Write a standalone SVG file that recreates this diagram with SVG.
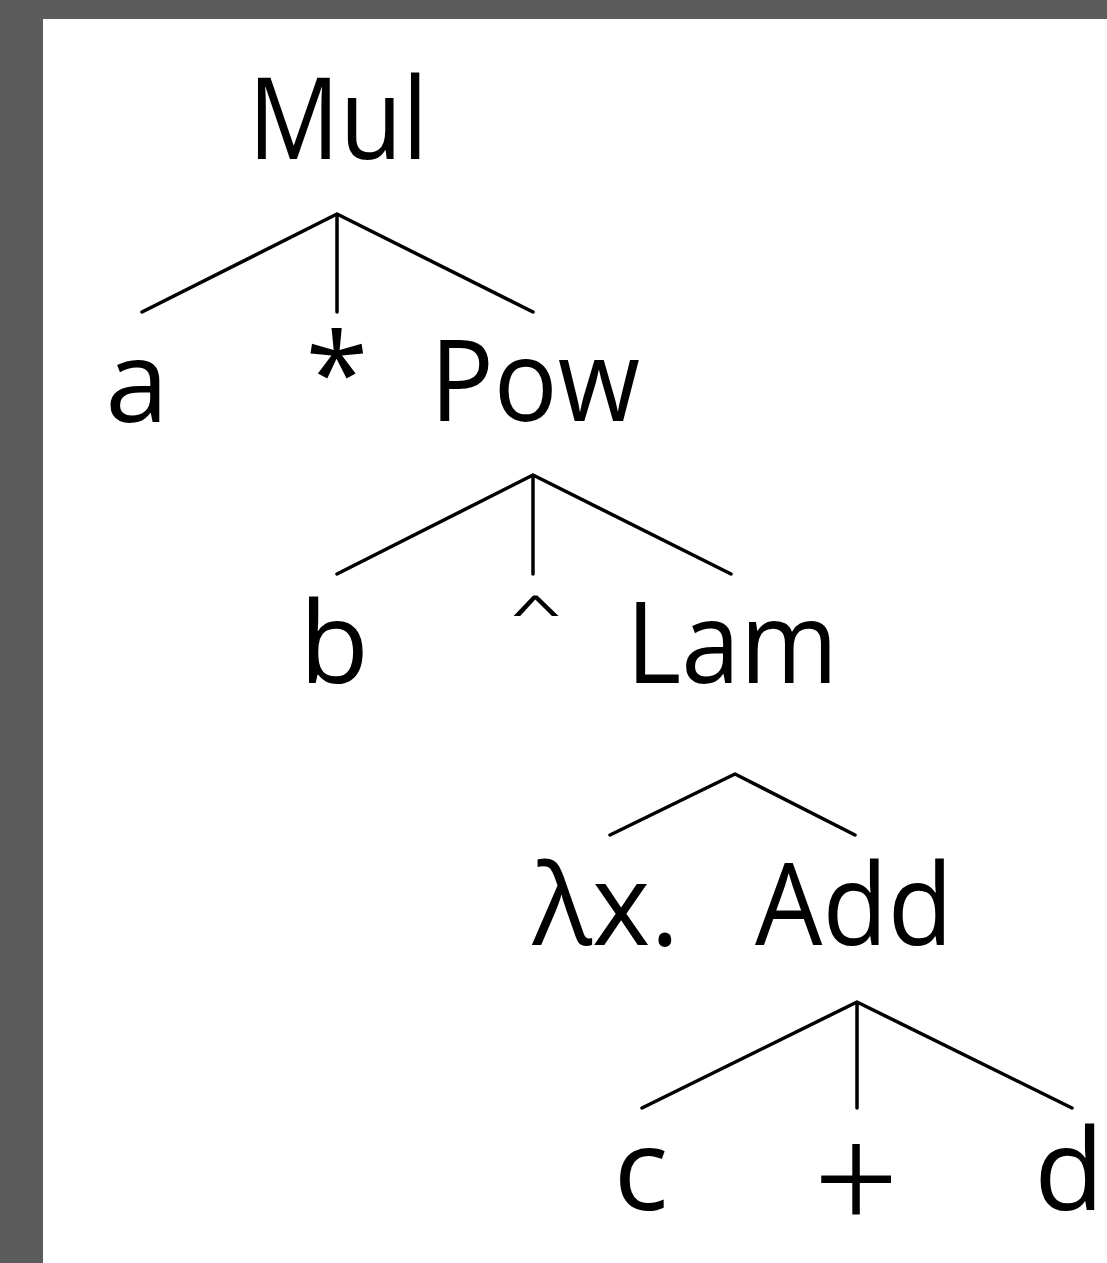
<svg xmlns="http://www.w3.org/2000/svg" width="1107" height="1263" viewBox="0 0 1107 1263">
<style>
.t{font-family:"Open Sans","DejaVu Sans",sans-serif;font-size:114px;fill:#000;text-anchor:middle}
.p{font-family:"Liberation Serif","DejaVu Serif",serif;font-size:150px;fill:#000;text-anchor:middle}
.e{stroke:#000;stroke-width:3.5;fill:none;stroke-linecap:round;stroke-linejoin:round}
</style>
<rect x="0" y="0" width="1107" height="1263" fill="#5c5c5c"/>
<rect x="43" y="19" width="1064" height="1244" fill="#fff"/>
<g id="connectors">
<path class="e" d="M142,312 L337,214 L533,312 M337,214 L337,312"/>
<path class="e" d="M337,574 L533,475 L731,574 M533,475 L533,574"/>
<path class="e" d="M610,835 L735,774 L855,835"/>
<path class="e" d="M642,1108 L857,1002 L1072,1108 M857,1002 L857,1108"/>
</g>
<g id="n-mul"><text class="t" x="338" y="159" textLength="180" lengthAdjust="spacingAndGlyphs">Mul</text></g>
<g id="n-a"><text class="t" x="137" y="422">a</text></g>
<g id="n-star"><text class="t" x="337" y="414">*</text></g>
<g id="n-pow"><text class="t" x="535" y="421" textLength="210" lengthAdjust="spacingAndGlyphs">Pow</text></g>
<g id="n-b"><text class="t" x="334" y="683">b</text></g>
<g id="n-caret"><text class="t" transform="translate(536,628) scale(0.8,0.4)">^</text></g>
<g id="n-lam"><text class="t" x="732" y="683" textLength="212" lengthAdjust="spacingAndGlyphs">Lam</text></g>
<g id="n-lx"><text class="t" x="606" y="945" textLength="147" lengthAdjust="spacingAndGlyphs">λx.</text></g>
<g id="n-add"><text class="t" x="854" y="945" textLength="198" lengthAdjust="spacingAndGlyphs">Add</text></g>
<g id="n-c"><text class="t" x="641" y="1210">c</text></g>
<g id="n-plus"><text class="p" x="856" y="1229">+</text></g>
<g id="n-d"><text class="t" x="1069" y="1210">d</text></g>
</svg>
